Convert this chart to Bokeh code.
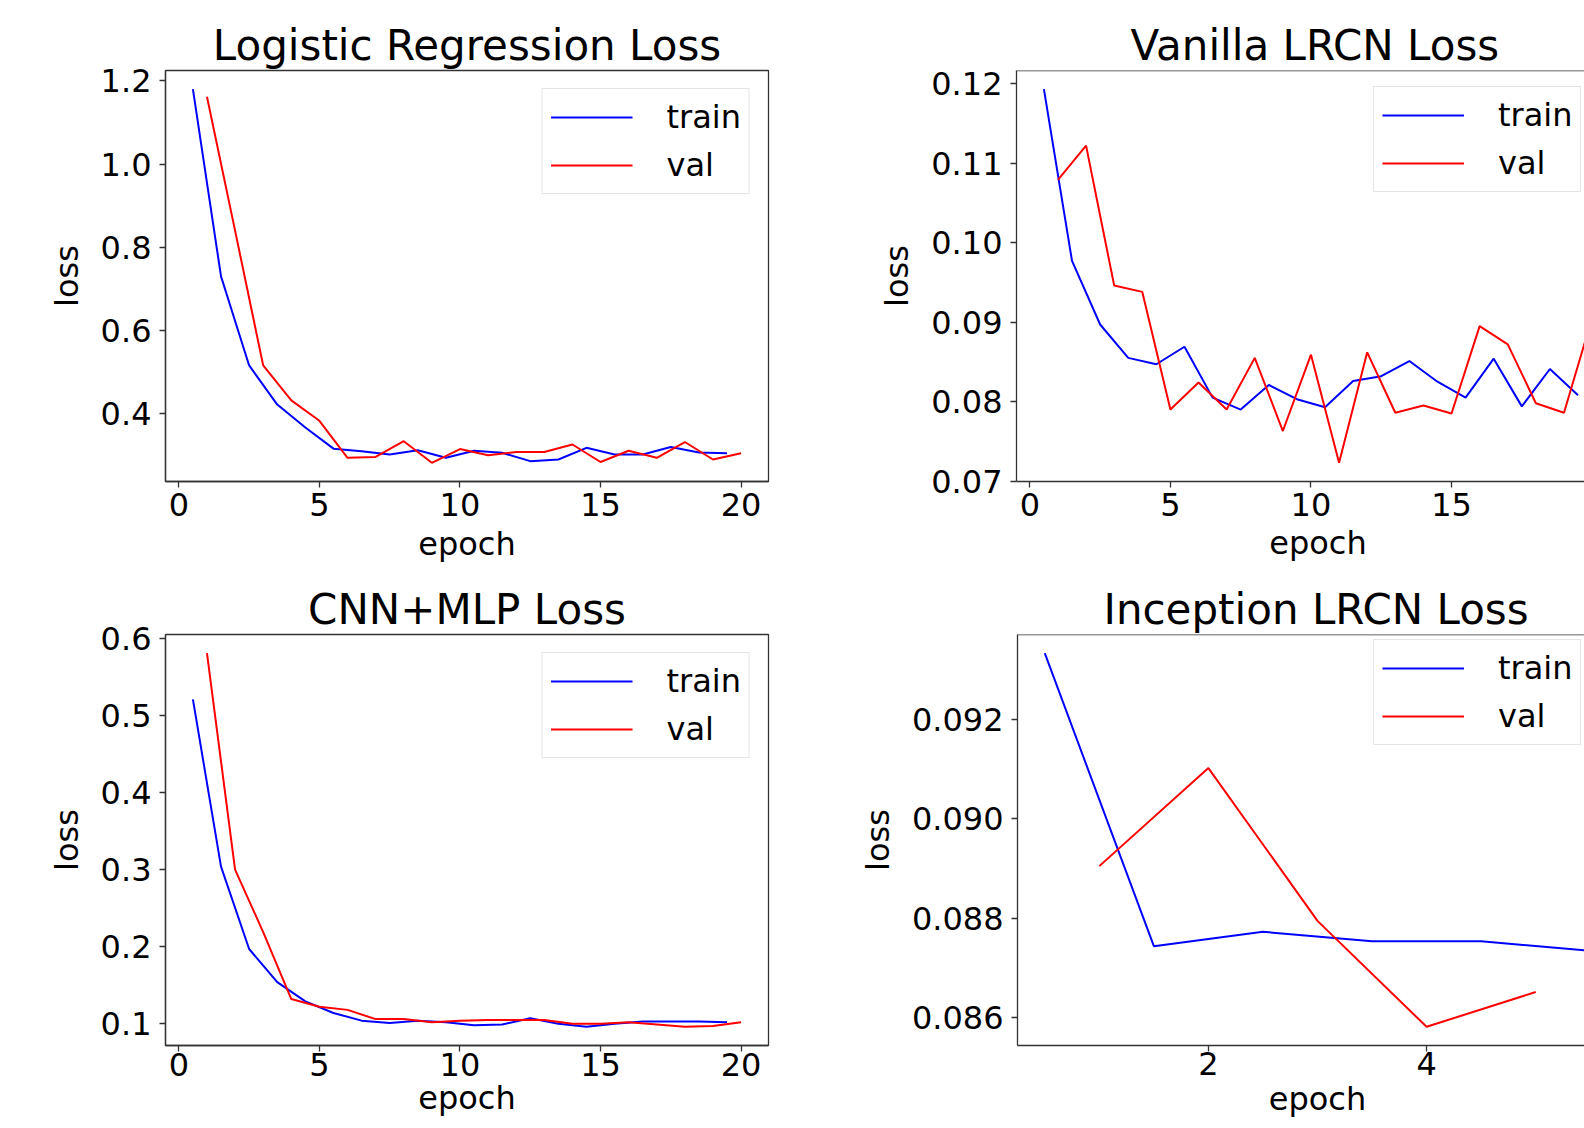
from bokeh.plotting import figure
from bokeh.layouts import column, row
from bokeh.models import Range1d, FixedTicker, Span, Title
from bokeh.embed import file_html
from bokeh.resources import INLINE

FONT = "DejaVu Sans"
AX = "#333333"

# ---------------- data ----------------
train_epochs_20 = [0.5, 1.5, 2.5, 3.5, 4.5, 5.5, 6.5, 7.5, 8.5, 9.5,
                   10.5, 11.5, 12.5, 13.5, 14.5, 15.5, 16.5, 17.5, 18.5, 19.5]
val_epochs_20 = [1, 2, 3, 4, 5, 6, 7, 8, 9, 10,
                 11, 12, 13, 14, 15, 16, 17, 18, 19, 20]

lr_train = [1.180, 0.730, 0.516, 0.422, 0.367, 0.316, 0.310, 0.302, 0.312, 0.294,
            0.311, 0.306, 0.286, 0.290, 0.318, 0.302, 0.302, 0.320, 0.307, 0.305]
lr_val = [1.162, 0.840, 0.516, 0.432, 0.383, 0.294, 0.296, 0.334, 0.282, 0.315,
          0.300, 0.308, 0.308, 0.326, 0.284, 0.311, 0.294, 0.332, 0.290, 0.305]

vl_train = [0.1193, 0.0977, 0.0897, 0.0855, 0.0847, 0.0869, 0.0805, 0.0790, 0.0821, 0.0803,
            0.0793, 0.0826, 0.0832, 0.0851, 0.0825, 0.0805, 0.0854, 0.0794, 0.0841, 0.0808]
vl_val = [0.1079, 0.1122, 0.0946, 0.0938, 0.0790, 0.0824, 0.0790, 0.0855, 0.0763, 0.0859,
          0.0723, 0.0862, 0.0786, 0.0795, 0.0785, 0.0895, 0.0872, 0.0798, 0.0786, 0.0905]

cm_train = [0.521, 0.304, 0.197, 0.154, 0.129, 0.114, 0.104, 0.101, 0.104, 0.102,
            0.098, 0.099, 0.107, 0.100, 0.096, 0.100, 0.103, 0.103, 0.103, 0.102]
cm_val = [0.581, 0.300, 0.219, 0.132, 0.122, 0.118, 0.106, 0.106, 0.102, 0.104,
          0.105, 0.105, 0.105, 0.100, 0.100, 0.102, 0.099, 0.096, 0.097, 0.102]

in_train_epochs = [0.5, 1.5, 2.5, 3.5, 4.5, 5.5]
in_val_epochs = [1, 2, 3, 4, 5]
in_train = [0.09333, 0.08744, 0.08773, 0.08754, 0.08754, 0.08735]
in_val = [0.08905, 0.09102, 0.08795, 0.08582, 0.08652]

lr_yticks = [0.4, 0.6, 0.8, 1.0, 1.2]
lr_ylabels = ["0.4", "0.6", "0.8", "1.0", "1.2"]
vl_yticks = [0.07, 0.08, 0.09, 0.10, 0.11, 0.12]
vl_ylabels = ["0.07", "0.08", "0.09", "0.10", "0.11", "0.12"]
cm_yticks = [0.1, 0.2, 0.3, 0.4, 0.5, 0.6]
cm_ylabels = ["0.1", "0.2", "0.3", "0.4", "0.5", "0.6"]
in_yticks = [0.086, 0.088, 0.090, 0.092]
in_ylabels = ["0.086", "0.088", "0.090", "0.092"]
epoch_ticks_20 = [0, 5, 10, 15, 20]
epoch_ticks_in = [2, 4, 6]

titles = ["Logistic Regression Loss", "Vanilla LRCN Loss", "CNN+MLP Loss", "Inception LRCN Loss"]
x_label = "epoch"
y_label = "loss"
series_names = ["train", "val"]
series_colors = ["#0000ff", "#ff0000"]

TITLE_PX = 42
LABEL_PX = 32
# approximate DejaVu Sans advance widths (em), used to centre texts on the cropped frames
TEXT_EM = {"Vanilla LRCN Loss": 8.923, "Inception LRCN Loss": 10.19, "epoch": 3.046}


def make_panel(title, tx, ty, vx, vy, yticks, ylabels, xticks,
               width, height, border, full_w=None, legend_pos=None,
               xlabel_standoff=5, xaxis_label_standoff=6):
    left, right, top, bottom = border
    frame_w = width - left - right
    cropped = full_w is not None
    if full_w is None:
        full_w = frame_w
    xs = list(tx) + list(vx)
    ys = list(ty) + list(vy)
    xmin, xmax = min(xs), max(xs)
    ymin, ymax = min(ys), max(ys)
    mx = 0.05 * (xmax - xmin)
    my = 0.05 * (ymax - ymin)
    x0, x1 = xmin - mx, xmax + mx
    x1_vis = x0 + (x1 - x0) * frame_w / full_w
    y0, y1 = ymin - my, ymax + my

    p = figure(width=width, height=height, title=None,
               x_range=Range1d(x0, x1_vis), y_range=Range1d(y0, y1),
               output_backend="svg", toolbar_location=None,
               min_border_left=left, min_border_right=right,
               min_border_top=top, min_border_bottom=bottom)
    p.xgrid.visible = False
    p.ygrid.visible = False
    p.background_fill_color = "white"
    p.border_fill_color = "white"
    if not cropped:
        p.outline_line_color = AX
        p.outline_line_width = 1.3
    else:
        p.outline_line_color = None
        p.add_layout(Span(location=y1, dimension="width", line_color=AX, line_width=1.3))

    # title
    if cropped:
        tw = TEXT_EM[title] * TITLE_PX
        t = Title(text=title, align="left", offset=full_w / 2 - tw / 2)
    else:
        t = Title(text=title, align="center")
    t.text_font = FONT
    t.text_font_size = f"{TITLE_PX}px"
    t.text_font_style = "normal"
    t.text_color = "black"
    t.standoff = 2
    p.add_layout(t, "above")

    for ax in (p.xaxis[0], p.yaxis[0]):
        ax.axis_line_color = AX
        ax.axis_line_width = 1.3
        ax.major_tick_line_color = AX
        ax.major_tick_line_width = 1.3
        ax.major_tick_out = 6
        ax.major_tick_in = 0
        ax.minor_tick_out = 0
        ax.minor_tick_in = 0
        ax.major_label_text_font = FONT
        ax.major_label_text_font_size = f"{LABEL_PX}px"
        ax.major_label_text_color = "black"
        ax.axis_label_text_font = FONT
        ax.axis_label_text_font_size = f"{LABEL_PX}px"
        ax.axis_label_text_font_style = "normal"
        ax.axis_label_text_color = "black"

    p.xaxis.ticker = FixedTicker(ticks=xticks)
    p.xaxis.major_label_standoff = xlabel_standoff
    if cropped:
        # the reference centres "epoch" on the full (uncropped) axis
        ew = TEXT_EM[x_label] * LABEL_PX
        xt = Title(text=x_label, align="left", offset=full_w / 2 - ew / 2)
        xt.text_font = FONT
        xt.text_font_size = f"{LABEL_PX}px"
        xt.text_font_style = "normal"
        xt.text_color = "black"
        xt.standoff = xaxis_label_standoff
        p.add_layout(xt, "below")
    else:
        p.xaxis.axis_label = x_label
        p.xaxis.axis_label_standoff = xaxis_label_standoff
    p.yaxis.ticker = FixedTicker(ticks=yticks)
    p.yaxis.major_label_overrides = {t_: s for t_, s in zip(yticks, ylabels)}
    p.yaxis.major_label_standoff = 8
    p.yaxis.axis_label = y_label
    p.yaxis.axis_label_standoff = 12

    p.line(tx, ty, line_color=series_colors[0], line_width=2, legend_label=series_names[0])
    p.line(vx, vy, line_color=series_colors[1], line_width=2, legend_label=series_names[1])

    lg = p.legend[0]
    lg.padding = 8
    lg.spacing = 8
    lg.glyph_width = 82
    lg.glyph_height = 40
    lg.label_height = 40
    lg.label_standoff = 34
    lg.label_text_font = FONT
    lg.label_text_font_size = f"{LABEL_PX}px"
    lg.label_text_color = "black"
    lg.border_line_color = "#cccccc"
    lg.border_line_width = 1.3
    lg.background_fill_alpha = 0.85
    if legend_pos is None:
        lg.location = "top_right"
        lg.margin = 18
    else:
        lg.location = legend_pos
    return p


LEG_W, LEG_H = 207, 104

p1 = make_panel(titles[0], train_epochs_20, lr_train, val_epochs_20, lr_val,
                lr_yticks, lr_ylabels, epoch_ticks_20,
                800, 574, (165, 32, 70, 93))
p2 = make_panel(titles[1], train_epochs_20, vl_train, val_epochs_20, vl_val,
                vl_yticks, vl_ylabels, epoch_ticks_20,
                784, 574, (216, 0, 70, 93), full_w=603,
                legend_pos=(568 - 4 - LEG_W, 411 - 18 - LEG_H))
p3 = make_panel(titles[2], train_epochs_20, cm_train, val_epochs_20, cm_val,
                cm_yticks, cm_ylabels, epoch_ticks_20,
                800, 554, (165, 32, 60, 83),
                xlabel_standoff=1, xaxis_label_standoff=0)
p4 = make_panel(titles[3], in_train_epochs, in_train, in_val_epochs, in_val,
                in_yticks, in_ylabels, epoch_ticks_in,
                784, 554, (217, 0, 54, 78), full_w=600,
                legend_pos=(567 - 4 - LEG_W, 422 - 18 - LEG_H),
                xlabel_standoff=0, xaxis_label_standoff=0)

layout = column(row(p1, p2), row(p3, p4))
open("out.html", "w").write(file_html(layout, INLINE))
